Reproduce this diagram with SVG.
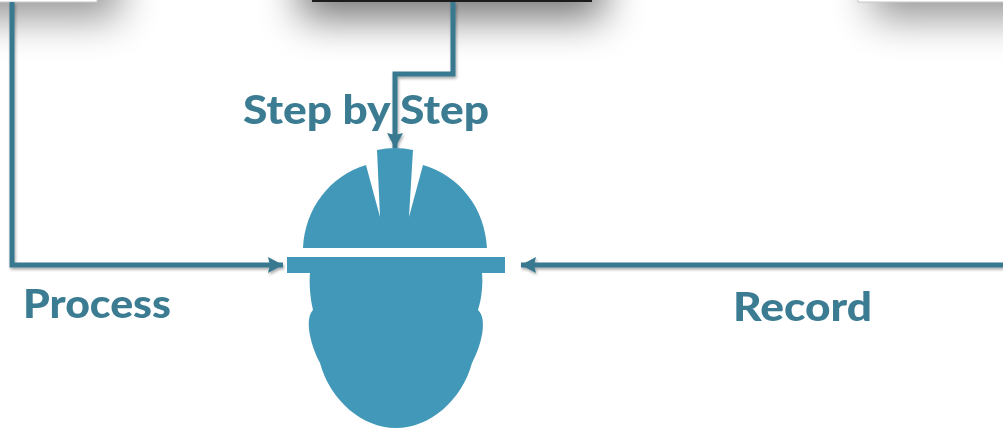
<svg xmlns="http://www.w3.org/2000/svg" width="1003" height="428" viewBox="0 0 1003 428">
<style>
.box{fill:#fff;stroke:#c8c8c8;stroke-width:1}
.conn{fill:none;stroke:#37798f;stroke-width:5;filter:url(#ls)}
.lbl{font-family:"Lato","Liberation Sans",sans-serif;font-weight:900;fill:#3b7b92;font-size:39px;filter:url(#soft)}
.worker{fill:#4398b9;filter:url(#soft)}
</style>
<defs>
<filter id="big" filterUnits="userSpaceOnUse" x="-200" y="-200" width="1500" height="400"><feGaussianBlur stdDeviation="20"/></filter>
<filter id="ls" filterUnits="userSpaceOnUse" x="0" y="0" width="1003" height="428"><feGaussianBlur in="SourceAlpha" stdDeviation="1.5"/><feOffset dx="1" dy="2"/><feComponentTransfer><feFuncA type="linear" slope="0.35"/></feComponentTransfer><feMerge><feMergeNode/><feMergeNode in="SourceGraphic"/></feMerge></filter>
<filter id="soft"><feGaussianBlur stdDeviation="0.5"/></filter>
<marker id="arr" markerUnits="userSpaceOnUse" markerWidth="18" markerHeight="18" refX="15" refY="9" orient="auto"><path d="M0 1L15 9L0 17L2 9Z" fill="#37798f"/></marker>
</defs>
<g id="shadows">
<rect x="-60" y="-40" width="180" height="58" fill="#000" opacity=".42" filter="url(#big)"/>
<rect x="300" y="-40" width="304" height="58" fill="#000" opacity=".55" filter="url(#big)"/>
<rect x="872" y="-40" width="200" height="58" fill="#000" opacity=".42" filter="url(#big)"/>
</g>
<g id="node-left"><rect class="box" x="-5" y="-10" width="102" height="12"/></g>
<g id="node-center"><rect x="312" y="-10" width="280" height="12" fill="#1c1c1c"/></g>
<g id="node-right"><rect class="box" x="858" y="-10" width="155" height="12"/></g>
<g id="connectors">
<path class="conn" d="M12 2V265H283" marker-end="url(#arr)"/>
<path class="conn" d="M453 2V74H395V148" marker-end="url(#arr)"/>
<path class="conn" d="M1003 265H521" marker-end="url(#arr)"/>
</g>
<g id="worker" class="worker">
<path d="M303 248C305 208 330 176 366 165L380 217L377 150Q395 146 413 150L409 217L423 165C460 176 485 208 487 248Z"/>
<rect x="287" y="257" width="218" height="16"/>
<path d="M310 273C309 282 310 298 313 310C305 318 309 342 320 363C330 400 362 428 396 428C430 428 462 400 472 363C483 342 487 318 478 310C482 298 483 282 482 273Z"/>
</g>
<g id="labels">
<text class="lbl" x="243" y="124" textLength="246" lengthAdjust="spacingAndGlyphs">Step by Step</text>
<text class="lbl" x="23" y="318" textLength="148" lengthAdjust="spacingAndGlyphs">Process</text>
<text class="lbl" x="733" y="321" textLength="139" lengthAdjust="spacingAndGlyphs">Record</text>
</g>
</svg>
